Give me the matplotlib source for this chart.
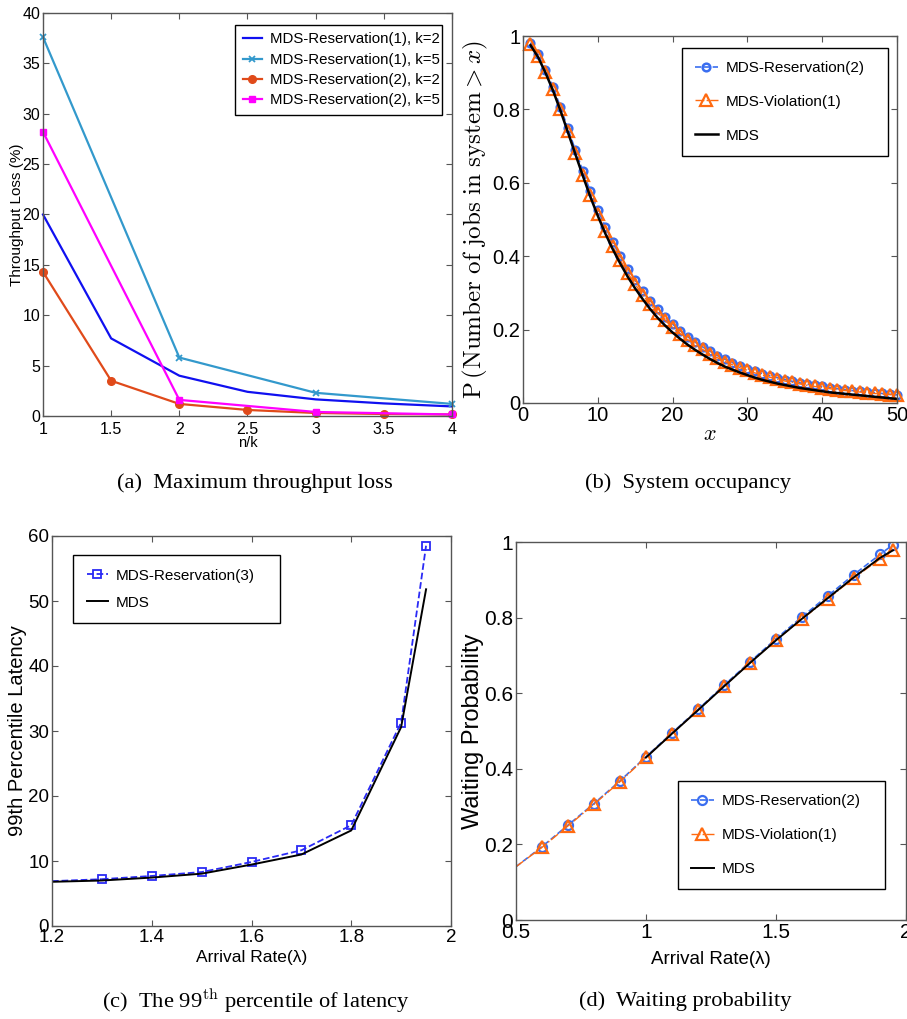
import matplotlib
matplotlib.use("Agg")
import matplotlib.pyplot as plt

plt.rcParams['mathtext.fontset'] = 'cm'
SANS = ['Liberation Sans', 'DejaVu Sans']
SERIF = ['Liberation Serif', 'DejaVu Serif']

# ---- (a) maximum throughput loss ----
nk_k2 = [1, 1.5, 2, 2.5, 3, 3.5, 4]
nk_k5 = [1, 2, 3, 4]
res1_k2 = [20.0, 7.7, 4.0, 2.4, 1.65, 1.25, 0.95]
res1_k5 = [37.6, 5.8, 2.3, 1.2]
res2_k2 = [14.3, 3.5, 1.2, 0.6, 0.3, 0.2, 0.15]
res2_k5 = [28.2, 1.6, 0.4, 0.15]

# ---- (b) system occupancy ----
jobs_x = list(range(1, 51))
occ_reservation2 = [0.982, 0.950, 0.908, 0.862, 0.807, 0.748, 0.689, 0.632, 0.577, 0.526,
                    0.480, 0.438, 0.400, 0.365, 0.334, 0.305, 0.279, 0.256, 0.234, 0.215,
                    0.197, 0.181, 0.166, 0.153, 0.141, 0.129, 0.119, 0.110, 0.101, 0.094,
                    0.087, 0.080, 0.074, 0.069, 0.064, 0.059, 0.055, 0.051, 0.048, 0.045,
                    0.042, 0.039, 0.036, 0.034, 0.032, 0.030, 0.028, 0.026, 0.024, 0.022]
occ_violation1 = [0.978, 0.945, 0.902, 0.855, 0.800, 0.740, 0.680, 0.622, 0.566, 0.515,
                  0.469, 0.427, 0.389, 0.354, 0.323, 0.295, 0.269, 0.246, 0.225, 0.206,
                  0.189, 0.173, 0.159, 0.146, 0.134, 0.123, 0.113, 0.104, 0.096, 0.089,
                  0.082, 0.076, 0.070, 0.065, 0.060, 0.056, 0.052, 0.048, 0.045, 0.042,
                  0.039, 0.036, 0.034, 0.032, 0.030, 0.028, 0.026, 0.024, 0.023, 0.021]
occ_mds = [0.975, 0.943, 0.900, 0.852, 0.797, 0.738, 0.678, 0.619, 0.562, 0.510,
           0.462, 0.419, 0.380, 0.344, 0.312, 0.283, 0.256, 0.232, 0.211, 0.192,
           0.175, 0.159, 0.145, 0.132, 0.120, 0.109, 0.099, 0.091, 0.083, 0.076,
           0.069, 0.063, 0.058, 0.053, 0.049, 0.045, 0.041, 0.038, 0.035, 0.032,
           0.029, 0.027, 0.025, 0.023, 0.021, 0.019, 0.017, 0.015, 0.013, 0.011]

# ---- (c) 99th percentile latency ----
lat_rate = [1.2, 1.3, 1.4, 1.5, 1.6, 1.7, 1.8, 1.9, 1.95]
lat_reservation3 = [6.9, 7.2, 7.7, 8.3, 9.85, 11.65, 15.5, 31.3, 58.5]
lat_mds = [6.8, 7.0, 7.45, 8.05, 9.45, 11.0, 14.7, 30.6, 51.8]

# ---- (d) waiting probability ----
wait_rate = [0.5, 0.6, 0.7, 0.8, 0.9, 1.0, 1.1, 1.2, 1.3, 1.4, 1.5, 1.6, 1.7, 1.8, 1.9, 1.95]
wait_reservation2 = [0.141, 0.194, 0.251, 0.308, 0.368, 0.432, 0.495, 0.557, 0.621, 0.683,
                     0.744, 0.802, 0.858, 0.914, 0.967, 0.993]
wait_violation1 = [0.141, 0.192, 0.249, 0.306, 0.366, 0.430, 0.493, 0.555, 0.618, 0.680,
                   0.740, 0.796, 0.850, 0.905, 0.955, 0.980]
mds_rate = [1.0, 1.1, 1.2, 1.3, 1.4, 1.5, 1.6, 1.7, 1.8, 1.9, 1.95]
wait_mds = [0.430, 0.493, 0.555, 0.618, 0.680, 0.740, 0.797, 0.852, 0.907, 0.958, 0.978]

W, H = 907, 1019
fig = plt.figure(figsize=(W / 100, H / 100), dpi=100)


def px_rect(l, t, r, b):
    return [l / W, 1 - b / H, (r - l) / W, (b - t) / H]


def box_axes(l, t, r, b, tick_size, pad=2):
    ax = fig.add_axes(px_rect(l, t, r, b))
    for s in ax.spines.values():
        s.set_color('#555555')
        s.set_linewidth(1.0)
    ax.tick_params(direction='in', top=True, right=True, length=4, width=0.8,
                   colors='#555555', labelcolor='black', labelsize=tick_size, pad=pad)
    ax._px = (l, t, r, b)
    return ax


def fix_tick_font(ax):
    for lab in ax.get_xticklabels() + ax.get_yticklabels():
        lab.set_family(SANS)


def frac(ax, x, y):
    l, t, r, b = ax._px
    return (x - l) / (r - l), (b - y) / (b - t)


def boxed_legend(ax, left, top, right, bottom, size, spacing, hl, bpad, loc='upper left'):
    x0, y_top = frac(ax, left, top)
    x1, y_bot = frac(ax, right, bottom)
    if loc == 'upper left':
        anchor = (x0, 0.0, x1 - x0, y_top)
    else:
        anchor = (x0, y_bot, x1 - x0, 1.0 - y_bot)
    leg = ax.legend(loc=loc, bbox_to_anchor=anchor, mode='expand', borderaxespad=0,
                    prop={'family': SANS, 'size': size}, frameon=True, fancybox=False,
                    edgecolor='black', framealpha=1, handlelength=hl, handletextpad=0.5,
                    borderpad=bpad, labelspacing=spacing)
    leg.get_frame().set_linewidth(1.0)
    return leg


# (a)
ax = box_axes(43, 13, 452, 416, 11.5, pad=4)
ax.plot(nk_k2, res1_k2, color='#1010f0', lw=1.6, label='MDS-Reservation(1), k=2')
ax.plot(nk_k5, res1_k5, color='#3399cc', lw=1.6, marker='x', ms=5, mew=1.3,
        label='MDS-Reservation(1), k=5')
ax.plot(nk_k2, res2_k2, color='#e04a1a', lw=1.6, marker='o', ms=5.5,
        label='MDS-Reservation(2), k=2')
ax.plot(nk_k5, res2_k5, color='#ff00ff', lw=1.6, marker='s', ms=5,
        label='MDS-Reservation(2), k=5')
ax.set_xlim(1, 4)
ax.set_ylim(0, 40)
ax.set_xticks([1, 1.5, 2, 2.5, 3, 3.5, 4])
ax.set_xticklabels(['1', '1.5', '2', '2.5', '3', '3.5', '4'])
ax.set_yticks(range(0, 41, 5))
ax.tick_params(axis='y', pad=2)
fix_tick_font(ax)
ax.set_xlabel('n/k', family=SANS, fontsize=10.5)
ax.xaxis.set_label_coords(0.5, frac(ax, 0, 436)[1])
ax.set_ylabel('Throughput Loss (%)', family=SANS, fontsize=11)
ax.yaxis.set_label_coords(frac(ax, 24, 0)[0], 0.5)
boxed_legend(ax, 235, 25, 442, 115, 10.8, 0.42, 1.3, 0.5)
for ln in ax.get_lines():
    ln.set_clip_on(False)

# (b)
ax = box_axes(523, 36, 897, 403, 14.5)
ax.plot(jobs_x, occ_reservation2, color='#3a6ef0', ls='--', lw=1.2, marker='o', ms=5.5,
        mfc='none', mew=1.8, label='MDS-Reservation(2)')
ax.plot(jobs_x, occ_violation1, color='#ff6a10', ls='-.', lw=1.0, marker='^', ms=8,
        mfc='none', mew=1.6, label='MDS-Violation(1)')
ax.plot(jobs_x, occ_mds, color='black', lw=1.8, label='MDS')
ax.set_xlim(0, 50)
ax.set_ylim(0, 1)
ax.set_xticks(range(0, 51, 10))
ax.set_yticks([0, 0.2, 0.4, 0.6, 0.8, 1])
ax.set_yticklabels(['0', '0.2', '0.4', '0.6', '0.8', '1'])
fix_tick_font(ax)
ax.set_xlabel(r'$x$', fontsize=16)
ax.xaxis.set_label_coords(0.5, frac(ax, 0, 424)[1])
ax.set_ylabel(r'$\mathrm{P}\,(\mathrm{Number\ of\ jobs\ in\ system} > x)$', fontsize=18)
ax.yaxis.set_label_coords(frac(ax, 490, 0)[0], 0.5)
boxed_legend(ax, 682, 48, 888, 150, 11, 1.3, 1.5, 0.85)
for ln in ax.get_lines():
    ln.set_clip_on(False)

# (c)
ax = box_axes(52, 536, 451, 926, 13.5)
ax.plot(lat_rate[1:], lat_reservation3[1:], color='#2a2af5', ls='--', lw=1.3, marker='s', ms=6,
        mfc='none', mew=1.3, label='MDS-Reservation(3)')
ax.plot(lat_rate[:2], lat_reservation3[:2], color='#2a2af5', ls='--', lw=1.3)
ax.plot(lat_rate, lat_mds, color='black', lw=1.4, label='MDS')
ax.set_xlim(1.2, 2)
ax.set_ylim(0, 60)
ax.set_xticks([1.2, 1.4, 1.6, 1.8, 2])
ax.set_xticklabels(['1.2', '1.4', '1.6', '1.8', '2'])
ax.set_yticks(range(0, 61, 10))
fix_tick_font(ax)
ax.set_xlabel('Arrival Rate(λ)', family=SANS, fontsize=12.5)
ax.xaxis.set_label_coords(0.5, frac(ax, 0, 950)[1])
ax.set_ylabel('99th Percentile Latency', family=SANS, fontsize=14.5)
ax.yaxis.set_label_coords(frac(ax, 27, 0)[0], 0.5)
boxed_legend(ax, 73, 555, 280, 621, 11, 0.85, 1.4, 0.9)

# (d)
ax = box_axes(516, 542, 906, 920, 15)
ax.plot(wait_rate, wait_reservation2, color='#3a6ef0', ls='--', lw=1.2, marker='o', ms=6.5,
        mfc='none', mew=1.6, markevery=list(range(1, len(wait_rate))), label='MDS-Reservation(2)')
ax.plot(wait_rate, wait_violation1, color='#ff6a10', ls='-.', lw=1.0, marker='^', ms=8,
        mfc='none', mew=1.6, markevery=list(range(1, len(wait_rate))), label='MDS-Violation(1)')
ax.plot(mds_rate, wait_mds, color='black', lw=1.4, label='MDS')
ax.set_xlim(0.5, 2)
ax.set_ylim(0, 1)
ax.set_xticks([0.5, 1, 1.5, 2])
ax.set_xticklabels(['0.5', '1', '1.5', '2'])
ax.set_yticks([0, 0.2, 0.4, 0.6, 0.8, 1])
ax.set_yticklabels(['0', '0.2', '0.4', '0.6', '0.8', '1'])
fix_tick_font(ax)
ax.set_xlabel('Arrival Rate(λ)', family=SANS, fontsize=13.5)
ax.xaxis.set_label_coords(0.5, frac(ax, 0, 951)[1])
ax.set_ylabel('Waiting Probability', family=SANS, fontsize=17)
ax.yaxis.set_label_coords(frac(ax, 484, 0)[0], 0.5)
boxed_legend(ax, 678, 787, 885, 889, 11, 1.3, 1.5, 0.85, loc='lower left')

# captions
cap = dict(family=SERIF, fontsize=16.2, ha='center', va='center')
fig.text(255 / W, 1 - 483 / H, '(a)  Maximum throughput loss', **cap)
fig.text(688 / W, 1 - 483 / H, '(b)  System occupancy', **cap)
fig.text(256 / W, 1 - 1001 / H, r'(c)  The 99$^{\mathrm{th}}$ percentile of latency', **cap)
fig.text(685 / W, 1 - 1001 / H, '(d)  Waiting probability', **cap)

fig.savefig('out.png', dpi=100)
